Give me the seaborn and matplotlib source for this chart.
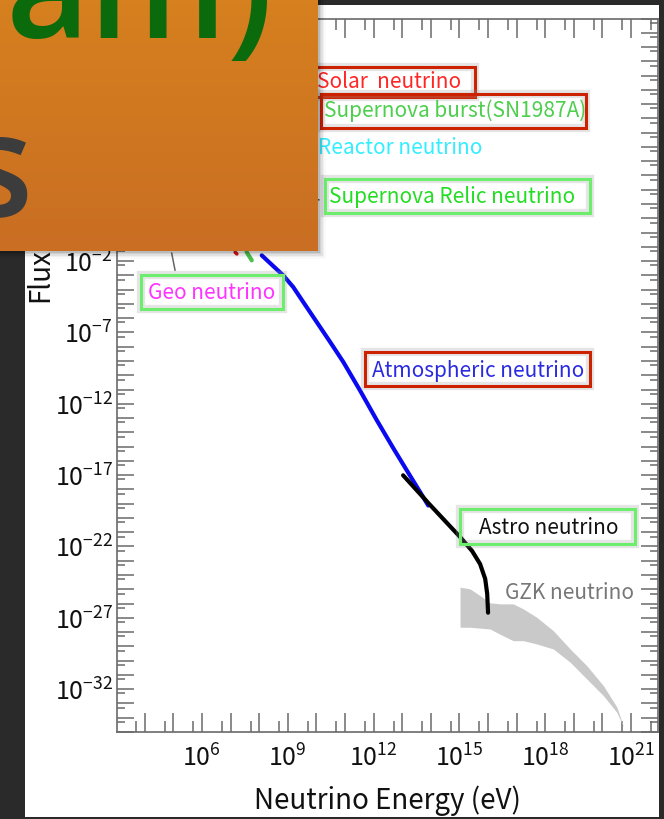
import numpy as np
import pandas as pd
import matplotlib
matplotlib.use("Agg")
import matplotlib.pyplot as plt
import matplotlib.ticker as mticker
import matplotlib.patheffects as pe
from matplotlib.patches import Rectangle
from matplotlib.colors import LinearSegmentedColormap
import seaborn as sns

# ---------------- data (log10 of energy [eV] and flux) ----------------
atmo_logE = [8.09, 8.84, 9.19, 9.54, 10.01, 10.48, 10.94, 11.52, 12.11, 12.69, 13.27, 13.62, 13.91]
atmo_logF = [-1.60, -3.00, -3.82, -4.87, -6.27, -7.67, -9.07, -11.05, -13.15, -15.12, -17.03, -18.17, -19.13]

astro_logE = [13.03, 13.97, 15.02, 15.44, 15.72, 15.90, 15.97, 16.00]
astro_logF = [-17.01, -19.08, -21.33, -22.31, -23.22, -24.27, -25.32, -26.64]

gzk_logE = [15.02, 15.37, 15.72, 16.07, 16.42, 16.88, 17.23, 17.70, 18.28, 18.87, 19.45, 20.03, 20.50, 20.75]
gzk_upper = [-24.85, -24.97, -25.44, -25.95, -26.02, -26.02, -26.37, -26.96, -27.90, -29.18, -30.35, -31.75, -33.24, -34.70]
gzk_lower = [-27.66, -27.66, -27.72, -27.78, -28.15, -28.60, -28.60, -28.83, -29.18, -30.11, -31.28, -32.45, -33.62, -34.70]

solar_logE = [7.16, 7.22]
solar_logF = [-1.38, -1.50]
sn_logE = [7.56, 7.74]
sn_logF = [-1.36, -1.95]
geo_logE = [4.94, 5.06]
geo_logF = [-1.43, -2.65]
relic_logE = [9.88, 10.09]
relic_logF = [2.36, 2.29]

x_label_exps = [6, 9, 12, 15, 18, 21]
y_label_exps = [-32, -27, -22, -17, -12, -7, -2, 3, 8, 13]

label_texts = ["Solar  neutrino", "Supernova burst(SN1987A)", "Reactor neutrino",
               "Supernova Relic neutrino", "Geo neutrino", "Atmospheric neutrino",
               "Astro neutrino", "GZK neutrino"]

# ---------------- style ----------------
sns.set_style("ticks")
plt.rcParams["font.family"] = ["Noto Sans CJK JP", "DejaVu Sans"]
plt.rcParams["mathtext.fontset"] = "custom"
plt.rcParams["mathtext.rm"] = "Noto Sans CJK JP"
plt.rcParams["mathtext.it"] = "Noto Sans CJK JP"
plt.rcParams["mathtext.bf"] = "Noto Sans CJK JP"

W, H = 664, 820
fig = plt.figure(figsize=(W / 100, H / 100), dpi=100)
fig.patch.set_facecolor("#2a2a2a")


def fx(x):
    return x / W


def fy(y):
    return 1 - y / H


# white slide panel
fig.add_artist(Rectangle((fx(25), fy(818)), (659 - 25) / W, (818 - 6) / H,
                         transform=fig.transFigure, fc="white", ec="none", zorder=-5))

# ---------------- main axes ----------------
ax = fig.add_axes([fx(117), fy(733), (658 - 117) / W, (733 - 19.5) / H])
ax.set_facecolor("white")
ax.set_xscale("log")
ax.set_yscale("log")
ax.set_xlim(10 ** 3.03, 10 ** 21.94)
ax.set_ylim(1e-35, 1e15)

# GZK band
ax.fill_between(10 ** np.array(gzk_logE), 10 ** np.array(gzk_lower), 10 ** np.array(gzk_upper),
                color="#c9c9c9", lw=0, zorder=1)


def line(le, lf, color, lw, z=2):
    sns.lineplot(x=10 ** np.array(le), y=10 ** np.array(lf), ax=ax, color=color,
                 linewidth=lw, sort=False, estimator=None, zorder=z)


line(geo_logE, geo_logF, "#666666", 1.1)
line(relic_logE, relic_logF, "#555555", 1.1)
line(solar_logE, solar_logF, "#dd1111", 2.5)
line(sn_logE, sn_logF, "#4cc04c", 3.0)
line(atmo_logE, atmo_logF, "#0a0af0", 3.0, 3)
line(astro_logE, astro_logF, "#000000", 3.0, 4)
for l in ax.lines:
    l.set_solid_joinstyle("round")

# ticks
xmaj = [10.0 ** k for k in range(3, 23)]
xmin = [5 * 10.0 ** k for k in range(2, 22)]
ymaj = [10.0 ** k for k in range(-35, 16)]
ymin = [5 * 10.0 ** k for k in range(-36, 15)]
ax.xaxis.set_major_locator(mticker.FixedLocator(xmaj))
ax.xaxis.set_minor_locator(mticker.FixedLocator(xmin))
ax.yaxis.set_major_locator(mticker.FixedLocator(ymaj))
ax.yaxis.set_minor_locator(mticker.FixedLocator(ymin))


def make_fmt(exps):
    def f(v, p):
        e = int(round(np.log10(v)))
        return r"$10^{%d}$" % e if e in exps else ""
    return mticker.FuncFormatter(f)


ax.xaxis.set_major_formatter(make_fmt(x_label_exps))
ax.yaxis.set_major_formatter(make_fmt(y_label_exps))
ax.xaxis.set_minor_formatter(mticker.NullFormatter())
ax.yaxis.set_minor_formatter(mticker.NullFormatter())

tc = "#6a6a6a"
ax.tick_params(axis="x", which="major", direction="in", length=14, width=1.1, color=tc,
               top=True, bottom=True, labelsize=18, pad=9, labelcolor="#111111")
ax.tick_params(axis="x", which="minor", direction="in", length=8, width=1.1, color=tc,
               top=True, bottom=True)
ax.tick_params(axis="y", which="major", direction="in", length=12, width=1.1, color=tc,
               left=True, right=True, labelsize=18, pad=3, labelcolor="#111111")
ax.tick_params(axis="y", which="minor", direction="in", length=6, width=1.1, color=tc,
               left=True, right=True)
for s in ax.spines.values():
    s.set_color(tc)
    s.set_linewidth(1.2)

ax.set_xlabel("Neutrino Energy (eV)", fontsize=20, labelpad=9, color="#111111")
ax.set_ylabel("")
fig.text(fx(40), fy(302), "Flux", rotation=90, ha="center", va="bottom",
         fontsize=20, color="#111111", zorder=-1)

# ---------------- annotation boxes & labels ----------------
glow = [pe.Stroke(linewidth=6, foreground="#9a9a9a", alpha=0.25), pe.Normal()]
RED, GREEN = "#cc2200", "#6cee6c"
boxes = [
    (300, 68, 475, 98, RED),
    (321, 95, 586, 129, RED),
    (325, 180, 590, 214, GREEN),
    (141, 276, 283, 310, GREEN),
    (365, 353, 590, 387, RED),
    (460, 510, 635, 545, GREEN),
]
for x0, y0, x1, y1, ec in boxes:
    fig.add_artist(Rectangle((fx(x0), fy(y1)), (x1 - x0) / W, (y1 - y0) / H,
                             transform=fig.transFigure, fc="none", ec=ec, lw=2.2,
                             zorder=5, path_effects=glow))

label_pos = [(317, 82, "#ff2626"), (324, 111, "#4ccf4c"), (318, 148, "#33eeff"),
             (329, 197, "#22dd22"), (148, 293, "#ff33ff"), (372, 371, "#2a2ae0"),
             (479, 528, "#111111"), (505, 593, "#777777")]
for (x, y, c), s in zip(label_pos, label_texts):
    fig.text(fx(x), fy(y), s, ha="left", va="center", color=c, fontsize=15, zorder=6)

# ---------------- orange title box (slide overlay) ----------------
for i, a in enumerate([0.10, 0.08, 0.06, 0.04, 0.02]):
    d = 1.5 * (i + 1)
    fig.add_artist(Rectangle((0, fy(252 + d)), (318 + d) / W, (252 + d) / H,
                             transform=fig.transFigure, fc="black", ec="none",
                             alpha=a, zorder=9))
ob = fig.add_axes([0, fy(252), 318 / W, 252 / H], zorder=10)
cmap = LinearSegmentedColormap.from_list("org", ["#d6801f", "#c96e23"])
ob.imshow(np.linspace(0, 1, 64).reshape(-1, 1), cmap=cmap, aspect="auto",
          extent=(0, 318, 252, 0))
ob.set_xlim(0, 318)
ob.set_ylim(252, 0)
ob.axis("off")
ob.text(6, 38, "am)", fontsize=104, color="#0b6a0b", family="Open Sans",
        fontweight="semibold", va="baseline", ha="left", clip_on=True)
ob.text(-38, 217, "s", fontsize=104, color="#3c3c3c", family="Open Sans",
        fontweight="semibold", va="baseline", ha="left", clip_on=True)

fig.savefig("out.png", dpi=100, facecolor=fig.get_facecolor())
